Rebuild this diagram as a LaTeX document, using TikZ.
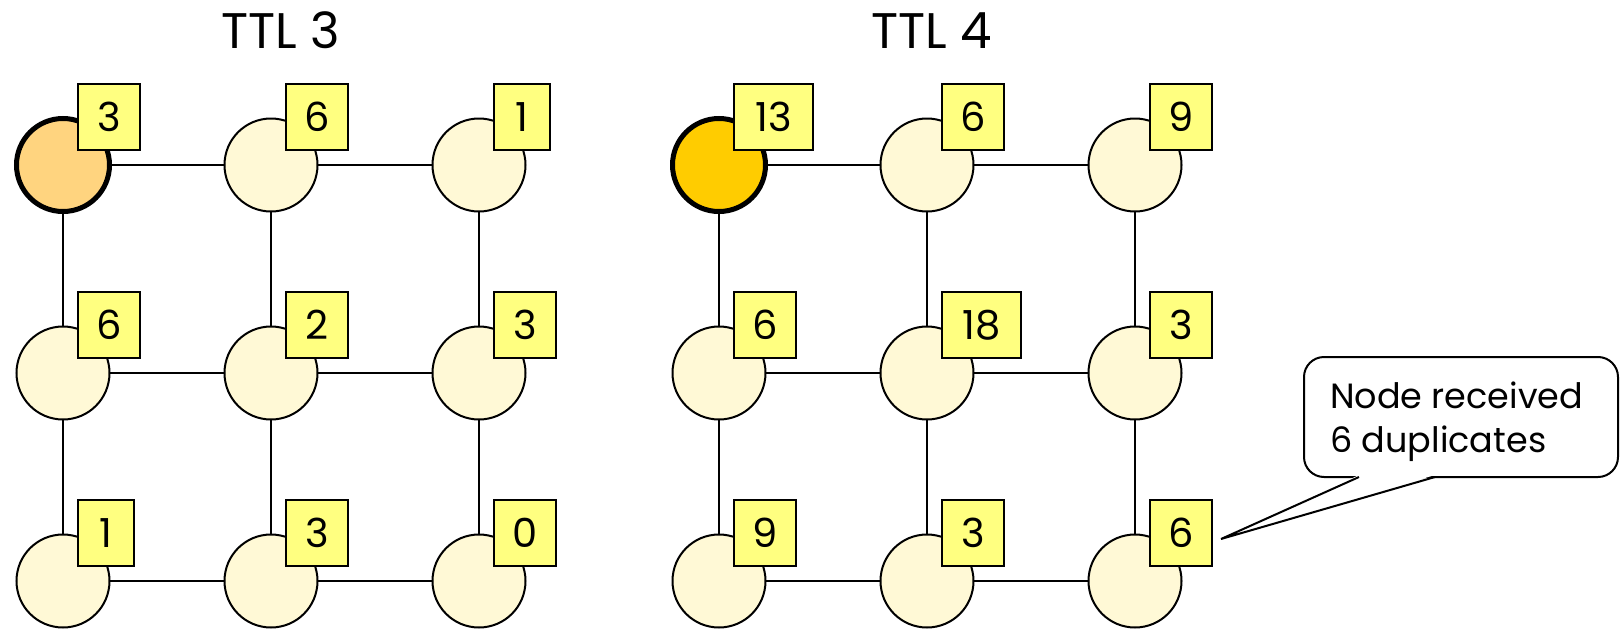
\documentclass[tikz,border=0pt]{standalone}
\usepackage{fontspec}
\setmainfont{Poppins}
\definecolor{peerfill}{HTML}{FFF9D6}
\definecolor{hotA}{HTML}{FFD47F}
\definecolor{hotB}{HTML}{FFCC00}
\definecolor{tagfill}{HTML}{FFFF80}
\begin{document}
\begin{tikzpicture}[x=1pt,y=-1pt,
  peer/.style={circle, draw, line width=2pt, fill=peerfill, minimum size=93pt, inner sep=0pt, outer sep=0pt},
  origin/.style={peer, line width=5pt},
  link/.style={line width=2pt},
  hits/.style={draw, line width=1.5pt, fill=tagfill, anchor=south west, minimum height=66pt, inner sep=0pt, outer sep=0pt, font=\fontsize{40}{40}\selectfont},
  title/.style={anchor=base, font=\fontsize{50}{50}\selectfont},
  note/.style={draw, line width=2pt, fill=white, rounded corners=20pt, minimum width=314pt, minimum height=120pt, inner sep=0pt, outer sep=0pt},
  notetext/.style={anchor=base west, inner sep=0pt, font=\fontsize{35}{44}\selectfont}]
\useasboundingbox (0,0) rectangle (1620,629);

% titles
\node[title] (t3) at (281,48) {TTL 3};
\node[title] (t4) at (932,48) {TTL 4};

% two 3x3 grids of peers; the top-left peer is the query origin
\foreach \g/\ox/\hot in {L/63/hotA, R/719/hotB}{
  \foreach \r in {1,2,3}{
    \foreach \c in {1,2,3}{
      \ifnum\r\c=11
        \node[origin, fill=\hot] (\g\r\c) at ({\ox+208*(\c-1)}, {165+208*(\r-1)}) {};
      \else
        \node[peer] (\g\r\c) at ({\ox+208*(\c-1)}, {165+208*(\r-1)}) {};
      \fi
    }
  }
}

% grid links
\foreach \g in {L,R}{
  \foreach \r in {1,2,3}{
    \foreach \c/\n in {1/2,2/3}{
      \draw[link] (\g\r\c) -- (\g\r\n);
      \draw[link] (\g\c\r) -- (\g\n\r);
    }
  }
}

% message counters
\foreach \p/\v/\w in {L11/3/62, L12/6/62, L13/1/56,
                      L21/6/62, L22/2/62, L23/3/62,
                      L31/1/56, L32/3/62, L33/0/62,
                      R11/13/79, R12/6/62, R13/9/62,
                      R21/6/62, R22/18/79, R23/3/62,
                      R31/9/62, R32/3/62, R33/6/62}{
  \node[hits, minimum width=\w pt] (c\p) at ([xshift=15pt,yshift=15pt]\p.center) {\v};
}

% callout
\node[note] (note) at (1461,417) {};
\coordinate (tip) at (1221,539);
\fill[white] ([xshift=-102pt,yshift=2pt]note.south) -- (tip) -- ([xshift=-26pt,yshift=2pt]note.south) -- cycle;
\draw[line width=2pt, line join=miter] ([xshift=-102pt]note.south) -- (tip) -- ([xshift=-26pt]note.south);
\node[notetext] (n1) at (1330,408) {Node received};
\node[notetext] (n2) at (1330,452) {6 duplicates};
\end{tikzpicture}
\end{document}
